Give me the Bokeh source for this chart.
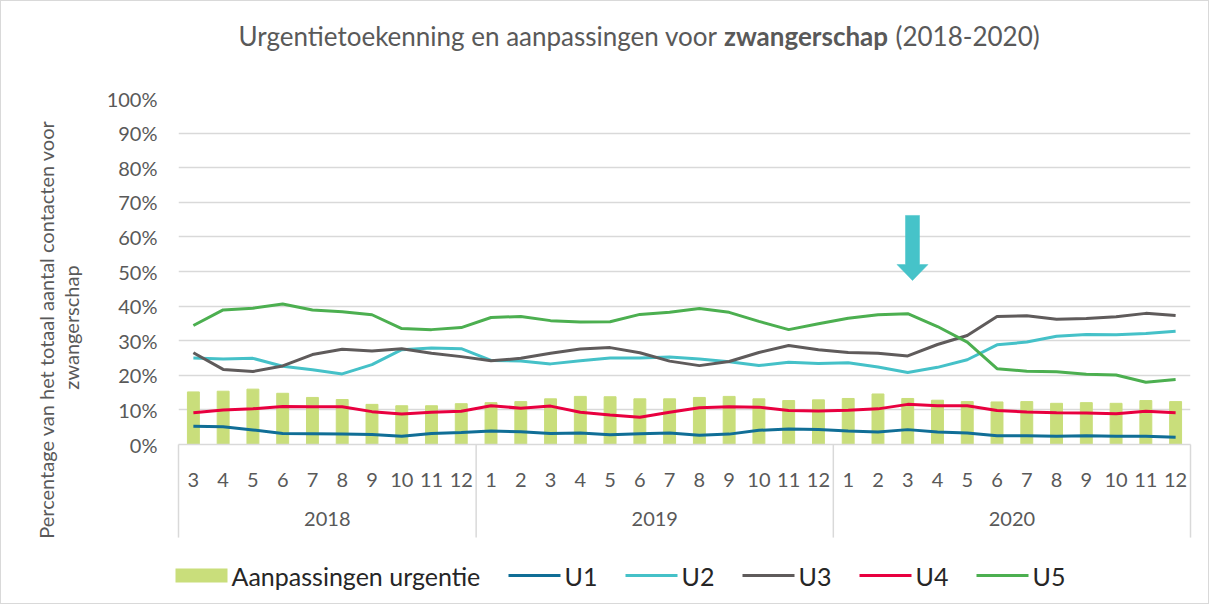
import math
from bokeh.plotting import figure
from bokeh.models import (FactorRange, Range1d, ColumnDataSource,
                          NumeralTickFormatter, FixedTicker)
from bokeh.core.properties import value
from bokeh.embed import file_html
from bokeh.resources import INLINE

# ---------------- data ----------------
years = ["2018", "2019", "2020"]
months_2018 = [3, 4, 5, 6, 7, 8, 9, 10, 11, 12]
months_2019 = [1, 2, 3, 4, 5, 6, 7, 8, 9, 10, 11, 12]
months_2020 = [1, 2, 3, 4, 5, 6, 7, 8, 9, 10, 11, 12]

aanpassingen = [15.2, 15.4, 16.0, 14.8, 13.6, 13.0, 11.6, 11.2, 11.2, 11.8,
                12.1, 12.4, 13.2, 13.9, 13.8, 13.2, 13.2, 13.6, 13.9, 13.2, 12.7, 12.9,
                13.3, 14.6, 13.3, 12.8, 12.4, 12.3, 12.4, 11.9, 12.1, 11.9, 12.7, 12.4]
u1 = [5.3, 5.1, 4.2, 3.2, 3.1, 3.0, 2.9, 2.4, 3.2, 3.5,
      3.9, 3.7, 3.2, 3.3, 2.8, 3.1, 3.3, 2.7, 3.0, 4.1, 4.5, 4.3,
      3.9, 3.6, 4.3, 3.6, 3.3, 2.5, 2.5, 2.4, 2.5, 2.4, 2.4, 2.1]
u2 = [25.0, 24.7, 24.9, 22.6, 21.6, 20.4, 23.1, 27.4, 27.9, 27.7,
      24.3, 24.1, 23.3, 24.2, 25.0, 25.0, 25.3, 24.7, 23.9, 22.8, 23.8, 23.4,
      23.6, 22.4, 20.8, 22.3, 24.5, 28.8, 29.6, 31.3, 31.8, 31.7, 32.1, 32.7]
u3 = [26.5, 21.7, 21.1, 22.7, 26.0, 27.5, 27.0, 27.7, 26.4, 25.4,
      24.2, 24.9, 26.4, 27.6, 28.0, 26.5, 24.1, 22.8, 24.0, 26.6, 28.6, 27.4,
      26.6, 26.4, 25.6, 28.9, 31.5, 37.0, 37.2, 36.2, 36.4, 36.9, 37.9, 37.3]
u4 = [9.2, 10.0, 10.3, 11.0, 10.9, 10.9, 9.5, 8.8, 9.3, 9.6,
      11.2, 10.5, 11.1, 9.3, 8.5, 7.9, 9.3, 10.6, 10.9, 10.8, 9.8, 9.7,
      9.9, 10.3, 11.6, 11.2, 11.2, 9.8, 9.4, 9.2, 9.1, 8.9, 9.6, 9.2]
u5 = [34.4, 38.9, 39.4, 40.6, 38.9, 38.4, 37.5, 33.5, 33.2, 33.8,
      36.7, 37.0, 35.8, 35.4, 35.5, 37.6, 38.2, 39.3, 38.2, 35.6, 33.2, 34.9,
      36.5, 37.5, 37.8, 34.1, 29.6, 21.9, 21.2, 21.0, 20.3, 20.1, 18.0, 18.8]

series_names = ["U1", "U2", "U3", "U4", "U5"]
bar_name = "Aanpassingen urgentie"
arrow_at = ("2020", "3")
y_ticks = [0, 10, 20, 30, 40, 50, 60, 70, 80, 90, 100]

title_normal = "Urgentietoekenning en aanpassingen voor"
title_bold = "zwangerschap"
title_tail = "(2018-2020)"
ylabel_1 = "Percentage van het totaal aantal contacten voor"
ylabel_2 = "zwangerschap"

# ---------------- styling ----------------
FONT = "Lato"
TXT = "#595959"
GRID = "#D9D9D9"
BAR_COLOR = "#C9DE7B"
COLORS = ["#106E96", "#45C1C8", "#5F5B5B", "#E8003F", "#4CAF50"]
ARROW_COLOR = "#46C3C9"

month_groups = [months_2018, months_2019, months_2020]
factors = [(y, str(m)) for y, ms in zip(years, month_groups) for m in ms]
n = len(factors)

src = ColumnDataSource(dict(
    x=factors,
    bar=[v / 100 for v in aanpassingen],
    U1=[v / 100 for v in u1], U2=[v / 100 for v in u2], U3=[v / 100 for v in u3],
    U4=[v / 100 for v in u4], U5=[v / 100 for v in u5],
))

# frame placement (page pixels)
FL, FR, FT, FB = 178, 1190, 98, 444
W, H = 1209, 604

p = figure(width=W, height=H,
           x_range=FactorRange(factors=factors, range_padding=0, group_padding=0,
                               factor_padding=0, subgroup_padding=0),
           y_range=Range1d(0, 1),
           output_backend="svg", toolbar_location=None, title=None,
           min_border_left=FL - 1, min_border_right=W - (FR - 1),
           min_border_top=FT - 1, min_border_bottom=H - (FB - 1))
p.outline_line_color = None
p.background_fill_color = "white"
p.border_fill_color = "white"
try:
    p.styles = {"border": "1px solid #D9D9D9"}
except Exception:
    pass

# grid
p.xgrid.grid_line_color = None
p.ygrid.grid_line_color = GRID
p.ygrid.grid_line_width = 1.5
p.ygrid.ticker = FixedTicker(ticks=[t / 100 for t in y_ticks])

# y axis
ya = p.yaxis[0]
ya.ticker = FixedTicker(ticks=[t / 100 for t in y_ticks])
ya.formatter = NumeralTickFormatter(format="0%")
ya.axis_line_color = None
ya.major_tick_line_color = None
ya.minor_tick_line_color = None
ya.major_label_text_font = FONT
ya.major_label_text_font_size = "20px"
ya.major_label_text_color = TXT
ya.major_label_standoff = 15

# x axis (two-level categorical)
xa = p.xaxis[0]
xa.axis_line_color = GRID
xa.axis_line_width = 1.5
xa.major_tick_line_color = None
xa.minor_tick_line_color = None
xa.major_label_text_font = FONT
xa.major_label_text_font_size = "20px"
xa.major_label_text_color = TXT
xa.major_label_standoff = 22
xa.group_text_font = FONT
xa.group_text_font_size = "20px"
xa.group_text_font_style = "normal"
xa.group_text_color = TXT
for attr, val in [("separator_line_color", None)]:
    if attr in xa.properties():
        setattr(xa, attr, val)

# bars and lines
bars = p.vbar(x="x", top="bar", width=0.4, source=src, color=BAR_COLOR)
for name, c in zip(series_names, COLORS):
    p.line(x="x", y=name, source=src, line_color=c, line_width=3)

# group separators below the axis (synthetic categorical coordinates)
bounds = [0]
for ms in month_groups:
    bounds.append(bounds[-1] + len(ms))
sep_bottom = -0.269
p.segment(x0=bounds, y0=[0] * len(bounds), x1=bounds, y1=[sep_bottom] * len(bounds),
          line_color=GRID, line_width=1.5, level="overlay")

# arrow pointing at March 2020
ai = factors.index(arrow_at) + 0.5 + 0.16
sw, hw = 0.235, 0.52
y_top, y_head, y_tip = 0.662, 0.520, 0.474
p.patch(x=[ai - sw, ai + sw, ai + sw, ai + hw, ai, ai - hw, ai - sw],
        y=[y_top, y_top, y_head, y_head, y_tip, y_head, y_head],
        fill_color=ARROW_COLOR, line_color=ARROW_COLOR,
        line_width=0.5, level="overlay")

# helpers for text placement (page pixels -> synthetic coordinates)
px = (FR - FL) / n
def ix(page_x):
    return (page_x - FL) / px
def iy(page_y):
    return (FB - page_y) / (FB - FT)

# title (mixed weight), drawn as unclipped text glyphs
ty = iy(35)
p.text(x=[ix(717)], y=[ty], text=[title_normal], level="overlay",
       text_align="right", text_baseline="middle", text_font=value(FONT),
       text_font_size="26px", text_color=TXT)
p.text(x=[ix(805.5)], y=[ty], text=[title_bold], level="overlay",
       text_align="center", text_baseline="middle", text_font=value(FONT),
       text_font_size="26px", text_font_style="bold", text_color=TXT)
p.text(x=[ix(895)], y=[ty], text=[title_tail], level="overlay",
       text_align="left", text_baseline="middle", text_font=value(FONT),
       text_font_size="26px", text_color=TXT)

# y axis title (two lines)
p.text(x=[ix(45), ix(70)], y=[iy(329), iy(327)], text=[ylabel_1, ylabel_2],
       level="overlay", angle=math.pi / 2, text_align="center",
       text_baseline="middle", text_font=value(FONT), text_font_size="20px",
       text_color=TXT)

# legend (drawn below the axis)
leg_y = iy(575)
leg_starts = [175, 508, 625, 742, 859, 976]
sw_w = 52
p.quad(left=[ix(leg_starts[0])], right=[ix(leg_starts[0] + sw_w)],
       bottom=[iy(582)], top=[iy(568)], fill_color=BAR_COLOR, line_color=None,
       level="overlay")
p.segment(x0=[ix(s) for s in leg_starts[1:]], x1=[ix(s + sw_w) for s in leg_starts[1:]],
          y0=[leg_y] * len(series_names), y1=[leg_y] * len(series_names),
          line_color=COLORS, line_width=3, level="overlay")
p.text(x=[ix(s + 56) for s in leg_starts], y=[leg_y] * len(leg_starts),
       text=[bar_name] + series_names, level="overlay", text_align="left",
       text_baseline="middle", text_font=value(FONT), text_font_size="25px",
       text_color="#262626")

open("out.html", "w").write(file_html(p, INLINE))
